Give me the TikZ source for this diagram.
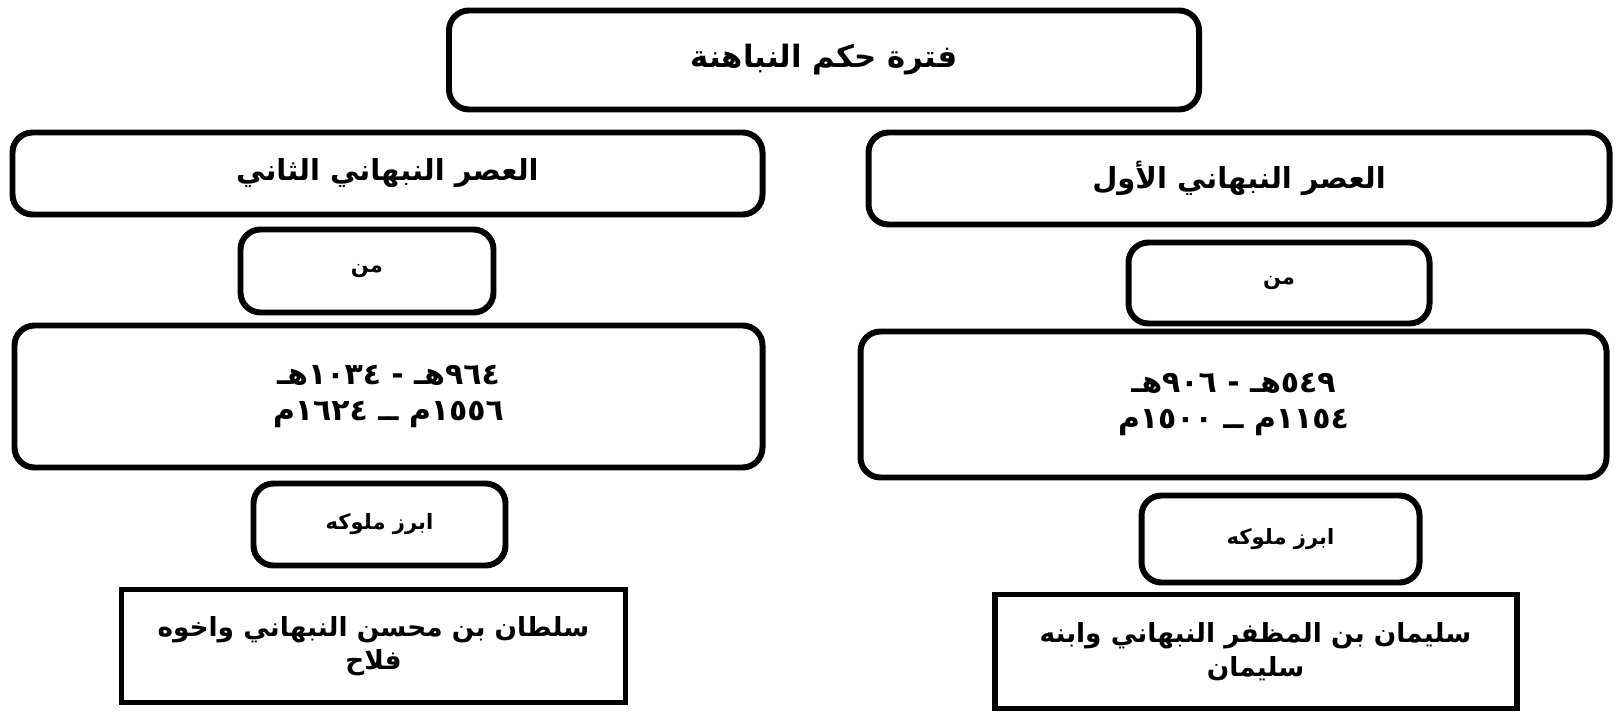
\documentclass[tikz,border=0pt]{standalone}
\usepackage{fontspec}
\newfontfamily\arabicfont[Script=Arabic]{DejaVu Sans}
\TeXXeTstate=1
\usetikzlibrary{positioning}

\tikzset{
  rbox/.style={draw, line width=3.4pt, rounded corners=0.4cm, fill=white,
    inner sep=0pt, outer sep=0pt, align=center, font=\arabicfont\bfseries},
  sbox/.style={rbox, rounded corners=0pt},
  bigtxt/.style={font=\arabicfont\bfseries\fontsize{16.5}{19}\selectfont},
  datetxt/.style={font=\arabicfont\bfseries\fontsize{17}{20}\selectfont},
  midtxt/.style={font=\arabicfont\bfseries\fontsize{15}{19}\selectfont},
  smalltxt/.style={font=\arabicfont\bfseries\fontsize{12}{15}\selectfont}
}

\begin{document}
\begin{tikzpicture}
  \useasboundingbox (0,0) rectangle (32.4,-14.3);

  % Title
  \node[rbox, bigtxt, font=\arabicfont\bfseries\fontsize{17.5}{20}\selectfont,
    minimum width=15.0cm, minimum height=1.98cm] (title) at (16.48,-1.2)
    {\beginR فترة حكم النباهنة\endR};

  % Periods
  \node[rbox, bigtxt, minimum width=15.0cm, minimum height=1.64cm] (secondera) at (7.75,-3.47)
    {\beginR العصر النبهاني الثاني\endR};
  \node[rbox, bigtxt, minimum width=14.82cm, minimum height=1.84cm] (firstera) at (24.78,-3.57)
    {\beginR العصر النبهاني الأول\endR};

  % Dates
  \node[rbox, datetxt, minimum width=14.96cm, minimum height=2.84cm] (seconddates) at (7.77,-7.93)
    {\beginR ٩٦٤هـ - ١٠٣٤هـ\endR\\ \beginR ١٥٥٦م ــ ١٦٢٤م\endR};
  \node[rbox, datetxt, minimum width=14.92cm, minimum height=2.92cm] (firstdates) at (24.67,-8.09)
    {\beginR ٥٤٩هـ - ٩٠٦هـ\endR\\ \beginR ١١٥٤م ــ ١٥٠٠م\endR};

  % "from" boxes
  \node[rbox, smalltxt, minimum width=5.06cm, minimum height=1.66cm] (secondfrom) at (7.34,-5.42)
    {\beginR من\endR};
  \node[rbox, smalltxt, minimum width=6.02cm, minimum height=1.62cm] (firstfrom) at (25.58,-5.66)
    {\beginR من\endR};

  % Kings
  \node[rbox, smalltxt, minimum width=5.04cm, minimum height=1.64cm] (secondkingslbl) at (7.59,-10.49)
    {\beginR ابرز ملوكه\endR};
  \node[rbox, smalltxt, minimum width=5.56cm, minimum height=1.74cm] (firstkingslbl) at (25.61,-10.78)
    {\beginR ابرز ملوكه\endR};

  \node[sbox, midtxt, minimum width=10.08cm, minimum height=2.26cm] (secondkings) at (7.47,-12.92)
    {\beginR سلطان بن محسن النبهاني واخوه\endR\\ \beginR فلاح\endR};
  \node[sbox, midtxt, minimum width=10.44cm, minimum height=2.28cm] (firstkings) at (25.11,-13.03)
    {\beginR سليمان بن المظفر النبهاني وابنه\endR\\ \beginR سليمان\endR};
\end{tikzpicture}
\end{document}
